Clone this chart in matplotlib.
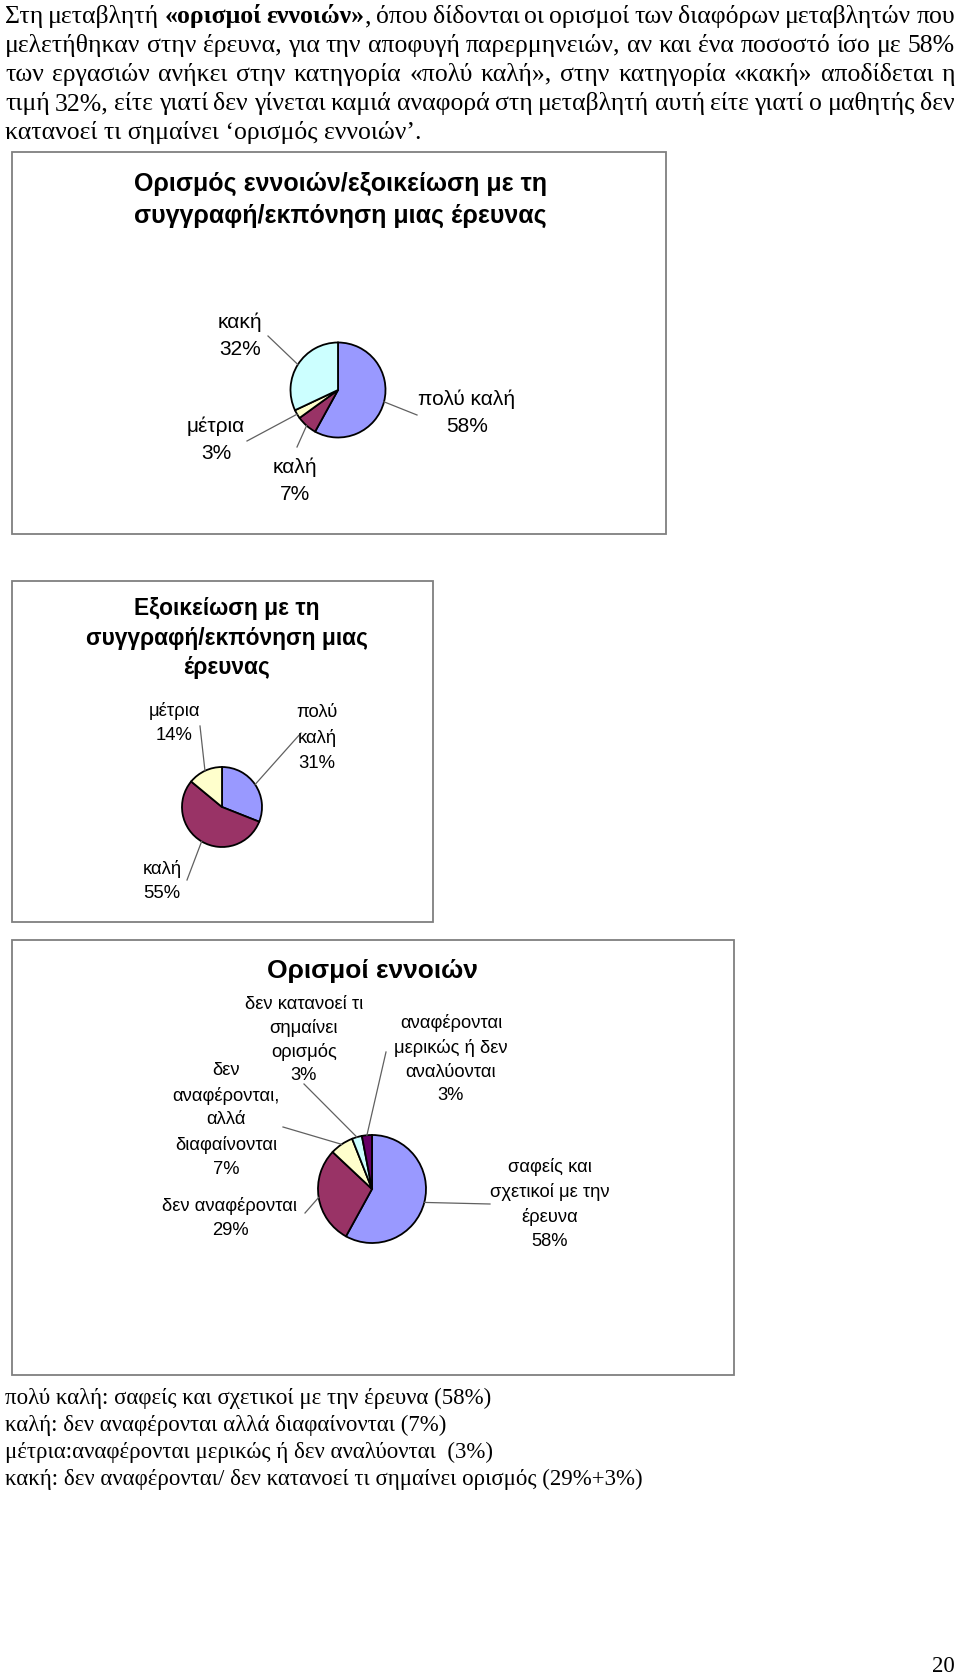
import matplotlib
matplotlib.use("Agg")
import matplotlib.pyplot as plt
from matplotlib.patches import Rectangle
import numpy as np

# ---------------- data ----------------
c1_labels = ['πολύ καλή', 'καλή', 'μέτρια', 'κακή']
c1_values = [58, 7, 3, 32]
c1_title = 'Ορισμός εννοιών/εξοικείωση με τη\nσυγγραφή/εκπόνηση μιας έρευνας'

c2_labels = ['πολύ\nκαλή', 'καλή', 'μέτρια']
c2_values = [31, 55, 14]
c2_title = 'Εξοικείωση με τη\nσυγγραφή/εκπόνηση μιας\nέρευνας'

c3_labels = ['σαφείς και\nσχετικοί με την\nέρευνα', 'δεν αναφέρονται',
             'δεν\nαναφέρονται,\nαλλά\nδιαφαίνονται', 'δεν κατανοεί τι\nσημαίνει\nορισμός',
             'αναφέρονται\nμερικώς ή δεν\nαναλύονται']
c3_values = [58, 29, 7, 3, 3]
c3_title = 'Ορισμοί εννοιών'

para_lines = [
    [('Στη', 0), ('μεταβλητή', 0), ('«ορισμοί', 1), ('εννοιών»', 1), (',', 2), ('όπου', 0), ('δίδονται', 0),
     ('οι', 0), ('ορισμοί', 0), ('των', 0), ('διαφόρων', 0), ('μεταβλητών', 0), ('που', 0)],
    'μελετήθηκαν στην έρευνα, για την αποφυγή παρερμηνειών, αν και ένα ποσοστό ίσο με 58%',
    'των εργασιών ανήκει στην κατηγορία «πολύ καλή», στην κατηγορία «κακή» αποδίδεται η',
    'τιμή 32%, είτε γιατί δεν γίνεται καμιά αναφορά στη μεταβλητή αυτή είτε γιατί ο μαθητής δεν',
]
para_last = 'κατανοεί τι σημαίνει ‘ορισμός εννοιών’.'

notes = [
    'πολύ καλή: σαφείς και σχετικοί με την έρευνα (58%)',
    'καλή: δεν αναφέρονται αλλά διαφαίνονται (7%)',
    'μέτρια:αναφέρονται μερικώς ή δεν αναλύονται  (3%)',
    'κακή: δεν αναφέρονται/ δεν κατανοεί τι σημαίνει ορισμός (29%+3%)',
]
page_no = '20'

COLORS = {'blue': '#9999FF', 'maroon': '#993366', 'yellow': '#FFFFCC',
          'cyan': '#CCFFFF', 'purple': '#660066'}

SERIF = ['Liberation Serif', 'DejaVu Serif']
SANS = ['Liberation Sans', 'DejaVu Sans']

# ---------------- figure ----------------
fig = plt.figure(figsize=(9.6, 16.78), dpi=100)
ax = fig.add_axes([0, 0, 1, 1])
W, H = 960, 1678

def set_lims():
    ax.set_xlim(0, W)
    ax.set_ylim(H, 0)
    ax.set_aspect('equal')
    ax.axis('off')

set_lims()
renderer = fig.canvas.get_renderer()

# ----- justified paragraph -----
BODY_FS = 18.5
left, right = 5, 955
para_base = [23, 52, 81, 110, 139]

def tokens_of(line):
    if isinstance(line, str):
        return [(w, 0) for w in line.split(' ')]
    return line

for i, line in enumerate(para_lines):
    toks = tokens_of(line)
    texts = []
    widths = []
    for t, flag in toks:
        tt = ax.text(0, para_base[i], t, fontsize=BODY_FS, family=SERIF,
                     fontweight='bold' if flag == 1 else 'normal', ha='left', va='baseline')
        texts.append(tt)
        widths.append(tt.get_window_extent(renderer).width)
    ngaps = sum(1 for k, (t, flag) in enumerate(toks) if k > 0 and flag != 2)
    gap = (right - left - sum(widths)) / ngaps
    x = left
    for k, (tt, (t, flag)) in enumerate(zip(texts, toks)):
        if k > 0 and flag != 2:
            x += gap
        tt.set_x(x)
        x += widths[k]

ax.text(left, para_base[4], para_last, fontsize=BODY_FS, family=SERIF, ha='left', va='baseline')

# ----- boxes -----
def box(x0, y0, x1, y1):
    ax.add_patch(Rectangle((x0, y0), x1 - x0, y1 - y0, fill=False,
                           edgecolor='#7f7f7f', linewidth=1.3, zorder=1))

box(12, 152, 666, 534)
box(12, 581, 433, 922)
box(12, 940, 734, 1375)

def draw_pie(values, colors, center, r):
    wedges, _ = ax.pie(values, colors=colors, startangle=-90, counterclock=True,
                       center=center, radius=r, frame=True,
                       wedgeprops=dict(edgecolor='black', linewidth=1.3))
    pts = []
    for w in wedges:
        m = np.deg2rad((w.theta1 + w.theta2) / 2)
        pts.append((center[0] + r * np.cos(m), center[1] + r * np.sin(m)))
    return pts

def label(x, y, txt, fs, ls):
    ax.text(x, y, txt, fontsize=fs, family=SANS, ha='center', va='center',
            linespacing=ls, color='black')

def leader(p_edge, p_lab):
    ax.plot([p_edge[0], p_lab[0]], [p_edge[1], p_lab[1]], color='#606060', lw=0.9)

# ----- chart 1 -----
ax.text(340, 200, c1_title, fontsize=18, family=SANS, fontweight='bold',
        ha='center', va='center', linespacing=1.42)
pts = draw_pie(c1_values, [COLORS['blue'], COLORS['maroon'], COLORS['yellow'], COLORS['cyan']],
               (338, 390), 47.5)
c1_pos = [(467, 413), (295, 481), (216, 440), (240, 336)]
c1_end = [(417, 415), (297, 447), (247, 441), (268, 336)]
for lab, v, pos, end, p in zip(c1_labels, c1_values, c1_pos, c1_end, pts):
    label(pos[0], pos[1], f'{lab}\n{v}%', 15, 1.55)
    leader(p, end)

# ----- chart 2 -----
ax.text(227, 638, c2_title, fontsize=16.4, family=SANS, fontweight='bold',
        ha='center', va='center', linespacing=1.36)
pts = draw_pie(c2_values, [COLORS['blue'], COLORS['maroon'], COLORS['yellow']], (222, 807), 40)
c2_pos = [(317, 738), (162, 881), (174, 723)]
c2_end = [(301, 733), (187, 880), (200, 726)]
for lab, v, pos, end, p in zip(c2_labels, c2_values, c2_pos, c2_end, pts):
    label(pos[0], pos[1], f'{lab}\n{v}%', 13.3, 1.6)
    leader(p, end)

# ----- chart 3 -----
ax.text(372, 971, c3_title, fontsize=19, family=SANS, fontweight='bold',
        ha='center', va='center')
pts = draw_pie(c3_values, [COLORS['blue'], COLORS['maroon'], COLORS['yellow'],
                           COLORS['cyan'], COLORS['purple']], (372, 1189), 54)
c3_pos = [(550, 1204), (230, 1218), (226, 1120), (304, 1040), (451, 1059)]
c3_end = [(490, 1204), (305, 1213), (283, 1127), (304, 1084), (386, 1052)]
c3_ls = [1.52, 1.52, 1.52, 1.45, 1.52]
for lab, v, pos, end, p, ls in zip(c3_labels, c3_values, c3_pos, c3_end, pts, c3_ls):
    label(pos[0], pos[1], f'{lab}\n{v}%', 13.2, ls)
    leader(p, end)

# ----- notes -----
note_base = [1404, 1431, 1458, 1485]
for y, t in zip(note_base, notes):
    ax.text(5, y, t, fontsize=16.5, family=SERIF, ha='left', va='baseline')

ax.text(943, 1672, page_no, fontsize=16.5, family=SERIF, ha='center', va='baseline')

set_lims()
fig.savefig('out.png', dpi=100, facecolor='white')
